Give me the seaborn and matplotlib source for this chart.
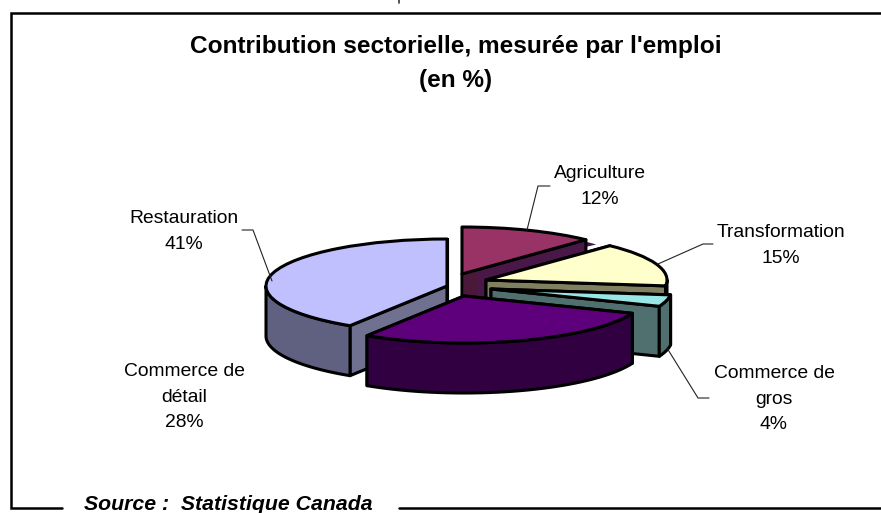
import numpy as np
import matplotlib
matplotlib.use("Agg")
import matplotlib.pyplot as plt
import seaborn as sns

# ---- data ----
categories = ["Agriculture", "Transformation", "Commerce de\ngros", "Commerce de\ndétail", "Restauration"]
values = [12, 15, 4, 28, 41]
top_colors = ["#993366", "#FFFFCC", "#99E6E6", "#5E007C", "#C0C0FF"]
rim_colors = ["#4A1838", "#808060", "#507070", "#300040", "#606080"]
face_colors = ["#4A1848", "#808060", "#507070", "#300040", "#707090"]
title_lines = ["Contribution sectorielle, mesurée par l'emploi", "(en %)"]
source_text = "Source :  Statistique Canada"

# ---- layout (pixels of the 881x513 picture) ----
W, H = 881, 513
R, RY, DEPTH = 181.0, 47.0, 50.0
KY = R / RY
centers = [(462, 274), (486, 280), (491, 289), (464, 296), (447, 286)]
draw_order = [0, 1, 4, 2, 3]
label_pos = [(600, 186.5), (781, 245.5), (774, 399), (184, 397), (184, 231.5)]
leaders = [
    [(550, 186), (538, 186), (527, 230)],
    [(713, 244), (703, 244), (658, 264)],
    [(709, 398), (698, 398), (667, 348)],
    None,
    [(242, 230), (253, 230), (272, 281)],
]
BLACK_LW = 2.2

sns.set_theme(style="white")
plt.rcParams["font.family"] = ["Liberation Sans", "DejaVu Sans"]
plt.rcParams["text.color"] = "black"
palette = sns.color_palette(top_colors)

fig = plt.figure(figsize=(W / 100, H / 100), dpi=100, facecolor="white")
ax = fig.add_axes([0, 0, 1, 1])


def Y(py):
    return (H - py) * KY


def pol(cx, cy, deg):
    t = np.radians(deg)
    return cx + R * np.cos(t), Y(cy) + R * np.sin(t)


def radial_face(cx, cy, deg, color, z, t0=0.0, t1=1.0):
    x, y = pol(cx, cy, deg)
    ax0, ay0 = cx + t0 * (x - cx), Y(cy) + t0 * (y - Y(cy))
    ax1, ay1 = cx + t1 * (x - cx), Y(cy) + t1 * (y - Y(cy))
    d = DEPTH * KY
    full = t0 == 0 and t1 == 1
    ax.fill([ax0, ax1, ax1, ax0], [ay0, ay1, ay1 - d, ay0 - d],
            facecolor=color, edgecolor="black" if full else color,
            lw=BLACK_LW if full else 0, zorder=z, joinstyle="round")


starts = 90 - 3.6 * np.concatenate([[0], np.cumsum(values)[:-1]])
ends = starts - 3.6 * np.array(values)

z = 2
for i in draw_order:
    cx, cy = centers[i]
    s, e = starts[i], ends[i]
    if i == 0:
        # darker sweep peeking out behind the first slice
        sw, _ = ax.pie([values[i] + 1.3, 100 - values[i] - 1.3], startangle=s, counterclock=False,
                       radius=R, center=(cx, Y(cy + 2)), colors=[face_colors[i], "white"],
                       wedgeprops=dict(linewidth=0, zorder=z))
        sw[1].set_visible(False)
        z += 1
    radial_face(cx, cy, s, face_colors[i], z)
    radial_face(cx, cy, e, face_colors[i], z + 1)
    if i == 0:
        radial_face(cx, cy, e, rim_colors[i], z + 2, 0.012, 0.125)
    z += 3
    lo, hi = max(e, -180), min(s, 0)
    if hi > lo:
        th = np.linspace(hi, lo, 80)
        xs = cx + R * np.cos(np.radians(th))
        ys = Y(cy) + R * np.sin(np.radians(th))
        ax.fill(np.r_[xs, xs[::-1]], np.r_[ys, ys[::-1] - DEPTH * KY],
                facecolor=rim_colors[i], edgecolor="black", lw=BLACK_LW, zorder=z, joinstyle="round")
        z += 1
    w, _ = ax.pie([values[i], 100 - values[i]], startangle=s, counterclock=False,
                  radius=R, center=(cx, Y(cy)), colors=[palette[i], "white"],
                  wedgeprops=dict(linewidth=BLACK_LW, edgecolor="black", zorder=z, joinstyle="round"))
    w[1].set_visible(False)
    z += 1

ax.set_aspect("auto")
ax.set_xlim(0, W)
ax.set_ylim(0, H * KY)
ax.set_axis_off()

# labels and leader lines
for name, v, (lx, ly), ld in zip(categories, values, label_pos, leaders):
    ax.text(lx, Y(ly), f"{name}\n{v}%", ha="center", va="center", multialignment="center",
            fontsize=13.9, color="black", zorder=50, linespacing=1.68)
    if ld:
        ax.plot([p[0] for p in ld], [Y(p[1]) for p in ld], color="#222222", lw=0.8, zorder=49)

# title
ax.text(456, Y(46), title_lines[0], ha="center", va="center", fontsize=17.6, fontweight="bold", zorder=50)
ax.text(456, Y(81), title_lines[1], ha="center", va="center", fontsize=17.6, fontweight="bold", zorder=50)

# frame around the chart, interrupted by the source
frame_lw = 1.8
ax.plot([W, 11, 11, 62], [Y(13), Y(13), Y(507.5), Y(507.5)], color="black", lw=frame_lw, zorder=40,
        solid_joinstyle="miter")
ax.plot([399, W], [Y(507.5), Y(507.5)], color="black", lw=frame_lw, zorder=40)
ax.text(84, Y(510), source_text, ha="left", va="baseline", fontsize=15.3, fontweight="bold",
        fontstyle="italic", zorder=50)
# stub of a line cut off by the top of the picture
ax.plot([399, 399], [Y(0), Y(2.5)], color="#333333", lw=1.2, zorder=40)

fig.savefig("out.png", dpi=100, facecolor="white")
